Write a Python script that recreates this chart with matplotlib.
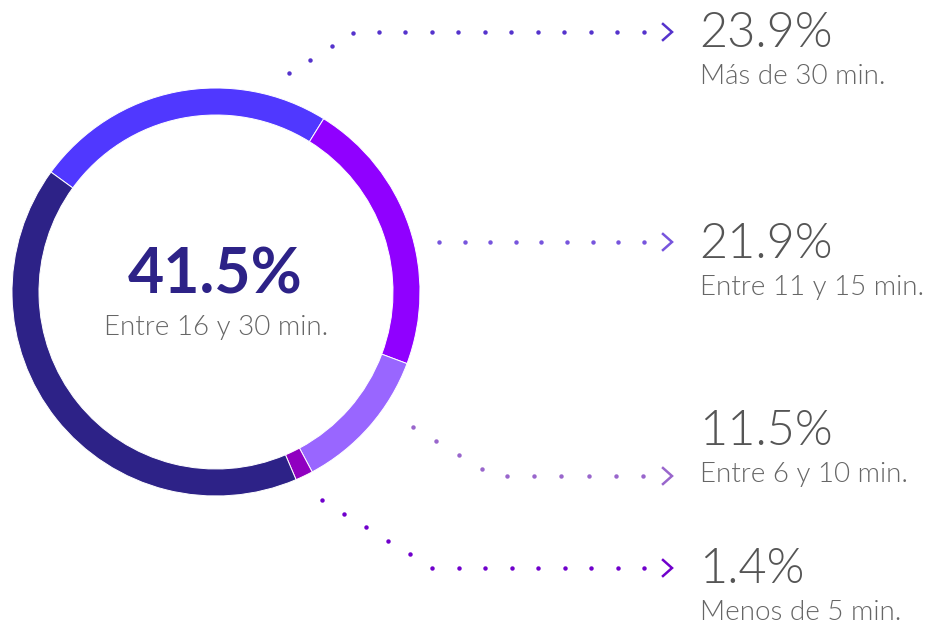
import matplotlib.pyplot as plt
import numpy as np

# datos
categorias = ['Más de 30 min.', 'Entre 11 y 15 min.', 'Entre 6 y 10 min.',
              'Menos de 5 min.', 'Entre 16 y 30 min.']
porcentajes = [23.9, 21.9, 11.5, 1.4, 41.5]
colores = ['#5038FF', '#9000FF', '#9966FF', '#9000C0', '#2D2287']

# etiquetas de la derecha (las cuatro primeras categorias)
colores_guia = ['#5533CC', '#7755DD', '#9966CC', '#7000CC']

W, H = 929, 626
fig = plt.figure(figsize=(W / 100, H / 100), dpi=100)
ax = fig.add_axes([0, 0, 1, 1])

# dona (eje y invertido -> sentido antihorario en datos = horario en pantalla)
cx, cy, r = 216, 292, 204
ax.pie(porcentajes, colors=colores, center=(cx, cy), radius=r,
       startangle=-144, counterclock=True,
       wedgeprops=dict(width=27, edgecolor='white', linewidth=0.7))

ax.set_xlim(0, W)
ax.set_ylim(H, 0)
ax.set_aspect('auto')
ax.axis('off')

# centro
ax.text(cx - 1, 293, f'{porcentajes[4]}%', ha='center', va='baseline',
        fontsize=45, fontweight='bold', color='#2D2287', family='Lato')
ax.text(cx, 335, categorias[4], ha='center', va='baseline',
        fontsize=20, fontweight=300, color='#666666', family='Lato')

# guias punteadas: tramo diagonal + tramo horizontal
guias = [
    [((289, 73), (353, 33), 4), ((379, 32), (644, 32), 11)],
    [((439, 242), (644, 242), 9)],
    [((413, 427), (482, 469), 4), ((507, 476), (643, 476), 6)],
    [((322, 500), (432, 568), 6), ((459, 568), (644, 568), 8)],
]
ys_texto = [47, 258, 445, 583]

for guia, col, yb, val, cat in zip(guias, colores_guia, ys_texto,
                                   porcentajes[:4], categorias[:4]):
    for (x0, y0), (x1, y1), n in guia:
        xs = np.linspace(x0, x1, n)
        ys = np.linspace(y0, y1, n)
        ax.plot(xs, ys, 'o', ms=3.2, color=col, mec='none')
    yf = guia[-1][1][1]
    ax.plot([663, 672, 663], [yf - 8, yf, yf + 8], color=col, lw=1.8,
            solid_joinstyle='miter')
    ax.text(699, yb, f'{val}%', ha='left', va='baseline', fontsize=35,
            fontweight=300, color='#555555', family='Lato')
    ax.text(700, yb + 37, cat, ha='left', va='baseline', fontsize=20,
            fontweight=300, color='#666666', family='Lato')

plt.savefig('out.png', dpi=100)
